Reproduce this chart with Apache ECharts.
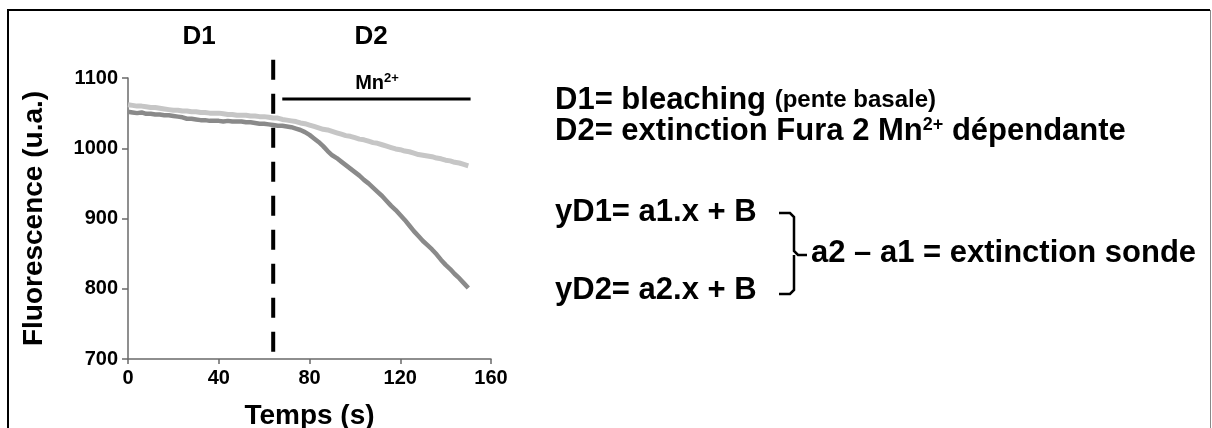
<!DOCTYPE html>
<html>
<head>
<meta charset="utf-8">
<script src="https://cdn.jsdelivr.net/npm/echarts@6/dist/echarts.min.js"></script>
<style>
  html, body { margin: 0; padding: 0; background: #fff; }
  #chart { width: 1212px; height: 428px; }
</style>
</head>
<body>
<div id="chart"></div>
<script>
// Time points (s)
const times = [0, 2, 4, 6, 8, 10, 12, 14, 16, 18, 20, 22, 24, 26, 28, 30, 32, 34, 36, 38,
  40, 42, 44, 46, 48, 50, 52, 54, 56, 58, 60, 62, 64, 66, 68, 70, 72, 74, 76, 78,
  80, 82, 84, 86, 88, 90, 92, 94, 96, 98, 100, 102, 104, 106, 108, 110, 112, 114, 116, 118,
  120, 122, 124, 126, 128, 130, 132, 134, 136, 138, 140, 142, 144, 146, 148, 150];

// Fluorescence (u.a.) — control trace (light grey)
const controlTrace = [1062, 1061, 1060, 1060, 1059, 1058, 1058, 1057, 1056, 1055,
  1054, 1054, 1053, 1053, 1052, 1052, 1051, 1051, 1050, 1050,
  1050, 1049, 1048, 1048, 1047, 1047, 1047, 1046, 1046, 1045,
  1045, 1044, 1043, 1043, 1041, 1040, 1039, 1038, 1036, 1035,
  1033, 1031, 1029, 1027, 1026, 1024, 1022, 1020, 1018, 1017,
  1015, 1013, 1012, 1010, 1008, 1007, 1005, 1003, 1001, 999,
  998, 996, 995, 993, 991, 990, 989, 988, 986, 985,
  983, 982, 980, 979, 977, 975];

// Fluorescence (u.a.) — Mn2+ quench trace (dark grey)
const quenchTrace = [1052, 1051, 1050, 1051, 1049, 1049, 1048, 1048, 1047, 1047,
  1046, 1045, 1044, 1042, 1042, 1041, 1040, 1040, 1039, 1039,
  1039, 1038, 1039, 1038, 1038, 1038, 1037, 1037, 1036, 1035,
  1035, 1034, 1033, 1032, 1032, 1031, 1030, 1028, 1026, 1023,
  1019, 1014, 1009, 1003, 996, 990, 986, 981, 976, 971,
  966, 961, 955, 950, 944, 938, 932, 925, 918, 912,
  905, 898, 890, 882, 875, 868, 862, 856, 849, 841,
  834, 828, 821, 815, 808, 801];

// Phase boundary (D1 | D2) and Mn2+ application period
const boundaryTime = 64;
const boundaryRange = [1126, 700];
const mnPeriod = [68, 151];
const mnLevel = 1070;

// Axis ticks
const xTicks = { min: 0, max: 160, interval: 40 };
const yTicks = { min: 700, max: 1100, interval: 100 };

const FONT = '"Liberation Sans", Arial, sans-serif';
const AXIS_GREY = '#6a6a6a';
const NOTE_FONT = 'bold 31px ' + FONT;

const chart = echarts.init(document.getElementById('chart'), null, { renderer: 'canvas' });

const option = {
  backgroundColor: '#ffffff',
  animation: false,
  grid: { left: 128, right: 721, top: 78, bottom: 69, containLabel: false, outerBoundsMode: 'none' },
  xAxis: {
    type: 'value',
    min: xTicks.min, max: xTicks.max, interval: xTicks.interval,
    name: 'Temps (s)',
    nameLocation: 'middle',
    nameGap: 43,
    nameTextStyle: { fontFamily: FONT, fontWeight: 'bold', fontSize: 28, color: '#000' },
    axisLine: { lineStyle: { color: AXIS_GREY, width: 1.5 } },
    axisTick: { length: 5, lineStyle: { color: AXIS_GREY, width: 1.5 } },
    axisLabel: { fontFamily: FONT, fontWeight: 'bold', fontSize: 20, color: '#000', margin: 9,
      formatter: v => String(v) },
    splitLine: { show: false }
  },
  yAxis: {
    type: 'value',
    min: yTicks.min, max: yTicks.max, interval: yTicks.interval,
    name: 'Fluorescence (u.a.)',
    nameLocation: 'middle',
    nameRotate: 90,
    nameGap: 80,
    nameTextStyle: { fontFamily: FONT, fontWeight: 'bold', fontSize: 28, color: '#000' },
    axisLine: { show: true, lineStyle: { color: AXIS_GREY, width: 1.5 } },
    axisTick: { show: true, length: 6, lineStyle: { color: AXIS_GREY, width: 1.5 } },
    axisLabel: { fontFamily: FONT, fontWeight: 'bold', fontSize: 20, color: '#000', margin: 10,
      formatter: v => String(v) },
    splitLine: { show: false }
  },
  series: [
    {
      name: 'contrôle',
      type: 'line',
      data: times.map((t, i) => [t, controlTrace[i]]),
      showSymbol: false,
      lineStyle: { color: '#c6c6c6', width: 5 },
      z: 2
    },
    {
      name: 'Mn2+',
      type: 'line',
      data: times.map((t, i) => [t, quenchTrace[i]]),
      showSymbol: false,
      lineStyle: { color: '#8a8a8a', width: 4.5 },
      z: 3
    },
    {
      name: 'limite D1/D2',
      type: 'line',
      data: [[boundaryTime, boundaryRange[0]], [boundaryTime, boundaryRange[1]]],
      showSymbol: false,
      clip: false,
      lineStyle: { color: '#000', width: 4, type: [20, 14] },
      z: 4
    },
    {
      name: 'application Mn2+',
      type: 'line',
      data: [[mnPeriod[0], mnLevel], [mnPeriod[1], mnLevel]],
      showSymbol: false,
      clip: false,
      lineStyle: { color: '#000', width: 3 },
      z: 4
    }
  ],
  graphic: [
    // frame
    { type: 'polyline', shape: { points: [[8, 440], [8, 10], [1210, 10]] },
      style: { stroke: '#000', lineWidth: 2, fill: null } },
    { type: 'line', shape: { x1: 1210.5, y1: 10, x2: 1210.5, y2: 440 },
      style: { stroke: '#888', lineWidth: 1 } },
    // phase labels
    { type: 'text', x: 199, y: 37,
      style: { text: 'D1', font: 'bold 26px ' + FONT, fill: '#000', align: 'center', verticalAlign: 'middle' } },
    { type: 'text', x: 371, y: 37,
      style: { text: 'D2', font: 'bold 26px ' + FONT, fill: '#000', align: 'center', verticalAlign: 'middle' } },
    { type: 'text', x: 377, y: 83,
      style: { text: 'Mn{sup|2+}', font: 'bold 20px ' + FONT, fill: '#000', align: 'center', verticalAlign: 'middle',
        rich: { sup: { font: 'bold 13px ' + FONT, fill: '#000', padding: [0, 0, 9, 0] } } } },
    // explanatory text
    { type: 'text', x: 555, y: 100,
      style: { text: 'D1= bleaching {s|(pente basale)}', font: NOTE_FONT, fill: '#000', verticalAlign: 'middle',
        rich: { s: { font: 'bold 24px ' + FONT, fill: '#000' } } } },
    { type: 'text', x: 555, y: 131,
      style: { text: 'D2= extinction Fura 2 Mn{sup|2+} dépendante', font: NOTE_FONT, fill: '#000', verticalAlign: 'middle',
        rich: { sup: { font: 'bold 18px ' + FONT, fill: '#000', padding: [0, 0, 12, 0] } } } },
    { type: 'text', x: 555, y: 212,
      style: { text: 'yD1= a1.x + B', font: NOTE_FONT, fill: '#000', verticalAlign: 'middle' } },
    { type: 'text', x: 555, y: 290,
      style: { text: 'yD2= a2.x + B', font: NOTE_FONT, fill: '#000', verticalAlign: 'middle' } },
    { type: 'text', x: 811, y: 253,
      style: { text: 'a2 – a1 = extinction sonde', font: NOTE_FONT, fill: '#000', verticalAlign: 'middle' } },
    // right brace joining the two equations
    { type: 'polyline', shape: { points: [[779, 213], [790, 213], [794, 217], [794, 251], [798, 255], [807, 255]] },
      style: { stroke: '#000', lineWidth: 2.5, fill: null } },
    { type: 'polyline', shape: { points: [[794, 255], [794, 290], [790, 294], [779, 294]] },
      style: { stroke: '#000', lineWidth: 2.5, fill: null } }
  ]
};

chart.setOption(option);
</script>
</body>
</html>
